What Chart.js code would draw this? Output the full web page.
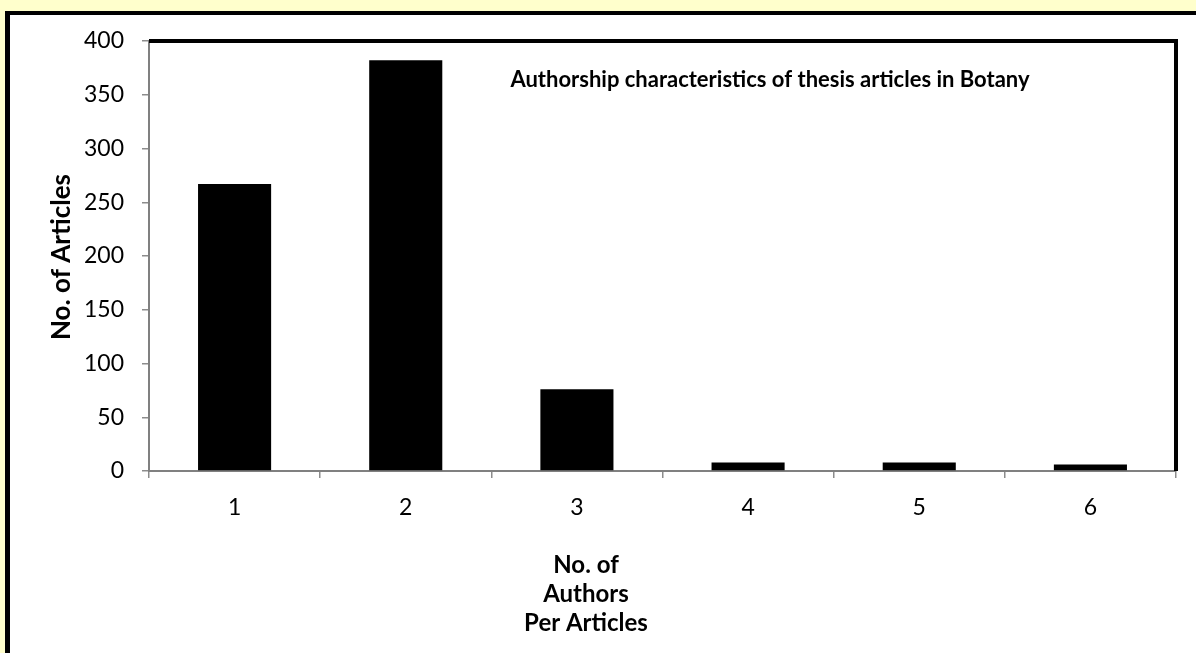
<!DOCTYPE html>
<html>
<head>
<meta charset="utf-8">
<script src="https://cdn.jsdelivr.net/npm/chart.js@4"></script>
<style>
  html, body { margin: 0; padding: 0; background: #FFFFCC; overflow: hidden; }
  #panel {
    position: absolute; left: 5px; top: 11px; width: 1200px; height: 700px;
    background: #fff; border-left: 5px solid #000; border-top: 4px solid #000;
  }
  #wrap { position: absolute; left: 0; top: 0; width: 1196px; height: 653px; }
</style>
</head>
<body>
<div id="panel"></div>
<div id="wrap"><canvas id="chart"></canvas></div>
<script>
// data
const authorCounts = ['1', '2', '3', '4', '5', '6'];
const articleCounts = [267, 382, 76, 8, 8, 6];
const yTicks = [0, 50, 100, 150, 200, 250, 300, 350, 400];

const chartTitle = 'Authorship characteristics of thesis articles in Botany';
const yTitle = 'No. of Articles';
const xTitleLines = ['No. of', 'Authors', 'Per Articles'];

const FONT = 'Lato, "Open Sans", sans-serif';

// extra drawing: thick top/right frame, inner title, axis titles
const decorations = {
    id: 'decorations',
    afterDraw(chart) {
        const { ctx, chartArea } = chart;
        ctx.save();
        // top and right border of the plot area
        ctx.strokeStyle = '#000';
        ctx.lineWidth = 4;
        ctx.beginPath();
        ctx.moveTo(chartArea.left, chartArea.top);
        ctx.lineTo(chartArea.right, chartArea.top);
        ctx.lineTo(chartArea.right, chartArea.bottom);
        ctx.stroke();

        ctx.fillStyle = '#000';
        ctx.textAlign = 'center';
        ctx.textBaseline = 'middle';

        ctx.font = 'bold 22px ' + FONT;
        ctx.fillText(chartTitle, 770, 80);

        ctx.font = 'bold 26px ' + FONT;
        ctx.translate(62, 257);
        ctx.rotate(-Math.PI / 2);
        ctx.fillText(yTitle, 0, 0);
        ctx.setTransform(1, 0, 0, 1, 0, 0);

        ctx.font = 'bold 24px ' + FONT;
        xTitleLines.forEach((line, i) => {
            ctx.fillText(line, 586, 565 + i * 29);
        });
        ctx.restore();
    }
};

new Chart(document.getElementById('chart'), {
    type: 'bar',
    data: {
        labels: authorCounts,
        datasets: [{
            label: 'No. of Articles',
            data: articleCounts,
            backgroundColor: '#000',
            borderWidth: 0,
            barPercentage: 0.427,
            categoryPercentage: 1.0
        }]
    },
    options: {
        responsive: true,
        maintainAspectRatio: false,
        animation: false,
        layout: { padding: { left: 0, top: 41, right: 20, bottom: 0 } },
        plugins: {
            legend: { display: false },
            title: { display: false },
            tooltip: { enabled: false }
        },
        scales: {
            x: {
                afterFit(scale) { scale.height = 182; },
                grid: {
                    display: true,
                    offset: true,
                    drawOnChartArea: false,
                    drawTicks: true,
                    tickLength: 7,
                    color: '#8c8c8c',
                    lineWidth: 1.5
                },
                border: { display: true, color: '#808080', width: 2 },
                ticks: {
                    color: '#000',
                    font: { family: FONT, size: 23 },
                    padding: 16
                }
            },
            y: {
                min: 0,
                max: 400,
                afterFit(scale) { scale.width = 149; },
                afterBuildTicks(scale) { scale.ticks = yTicks.map(v => ({ value: v })); },
                grid: {
                    display: true,
                    drawOnChartArea: false,
                    drawTicks: true,
                    tickLength: 7,
                    color: '#8c8c8c',
                    lineWidth: 1.5
                },
                border: { display: true, color: '#808080', width: 2 },
                ticks: {
                    color: '#000',
                    font: { family: FONT, size: 23 },
                    padding: 18
                }
            }
        }
    },
    plugins: [decorations]
});
</script>
</body>
</html>
